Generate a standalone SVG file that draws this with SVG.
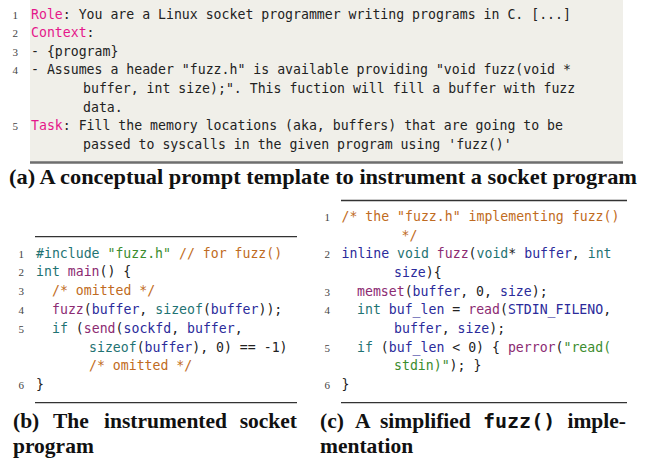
<svg xmlns="http://www.w3.org/2000/svg" width="650" height="461" viewBox="0 0 650 461">
  <style>
    .code { font-family: "DejaVu Sans Mono", "Liberation Mono", monospace; font-size: 13.2px; fill: #222; white-space: pre; }
    .ln { font-family: "Liberation Serif", serif; font-size: 11px; fill: #444; text-anchor: end; }
    .cap { font-family: "Liberation Serif", serif; font-weight: bold; font-size: 21.5px; fill: #111; white-space: pre; }
    .capmono { font-family: "DejaVu Sans Mono", monospace; font-weight: bold; font-size: 20px; }
    .key { fill: #e5178a; }
    .kw { fill: #1f7373; }
    .fn { fill: #8c2b72; }
    .id { fill: #2b2b9b; }
    .str { fill: #3b8c2e; }
    .cm { fill: #bf6b22; }
    .rule { stroke: #333; stroke-width: 1.3; }
  </style>

  <!-- (a) prompt template listing -->
  <g id="panel-a">
    <rect x="30" y="0" width="593" height="162" fill="#f0efe9"/>
    <line x1="30" y1="162.5" x2="623" y2="162.5" stroke="#6e6e6e" stroke-width="2.6"/>
    <text class="ln" x="18" y="18.5">1</text>
    <text class="ln" x="18" y="37.1">2</text>
    <text class="ln" x="18" y="55.7">3</text>
    <text class="ln" x="18" y="74.3">4</text>
    <text class="ln" x="18" y="130.1">5</text>
    <text class="code" x="31" y="18.5"><tspan class="key">Role</tspan>: You are a Linux socket programmer writing programs in C. [...]</text>
    <text class="code" x="31" y="37.1"><tspan class="key">Context</tspan>:</text>
    <text class="code" x="31" y="55.7">- {program}</text>
    <text class="code" x="31" y="74.3">- Assumes a header "fuzz.h" is available providing "void fuzz(void *</text>
    <text class="code" x="83" y="92.9">buffer, int size);". This fuction will fill a buffer with fuzz</text>
    <text class="code" x="83" y="111.5">data.</text>
    <text class="code" x="31" y="130.1"><tspan class="key">Task</tspan>: Fill the memory locations (aka, buffers) that are going to be</text>
    <text class="code" x="83" y="148.7">passed to syscalls in the given program using 'fuzz()'</text>
  </g>

  <g id="caption-a">
    <text class="cap" x="9" y="183.5" textLength="628" lengthAdjust="spacingAndGlyphs">(a) A conceptual prompt template to instrument a socket program</text>
  </g>

  <!-- (b) instrumented socket program -->
  <g id="panel-b">
    <line class="rule" x1="35" y1="236.7" x2="297" y2="236.7"/>
    <line class="rule" x1="35" y1="402.7" x2="297" y2="402.7"/>
    <text class="ln" x="24" y="257.5">1</text>
    <text class="ln" x="24" y="276.3">2</text>
    <text class="ln" x="24" y="295.1">3</text>
    <text class="ln" x="24" y="313.9">4</text>
    <text class="ln" x="24" y="332.7">5</text>
    <text class="ln" x="24" y="389.1">6</text>
    <text class="code" x="36" y="257.5"><tspan class="kw">#include</tspan> <tspan class="str">"fuzz.h"</tspan> <tspan class="cm">// for fuzz()</tspan></text>
    <text class="code" x="36" y="276.3"><tspan class="kw">int</tspan> <tspan class="fn">main</tspan>() {</text>
    <text class="code" x="52" y="295.1"><tspan class="cm">/* omitted */</tspan></text>
    <text class="code" x="52" y="313.9"><tspan class="fn">fuzz</tspan>(<tspan class="id">buffer</tspan>, <tspan class="kw">sizeof</tspan>(<tspan class="id">buffer</tspan>));</text>
    <text class="code" x="52" y="332.7"><tspan class="kw">if</tspan> (<tspan class="fn">send</tspan>(<tspan class="id">sockfd</tspan>, <tspan class="id">buffer</tspan>,</text>
    <text class="code" x="89" y="351.5"><tspan class="kw">sizeof</tspan>(<tspan class="id">buffer</tspan>), 0) == -1)</text>
    <text class="code" x="89" y="370.3"><tspan class="cm">/* omitted */</tspan></text>
    <text class="code" x="36" y="389.1">}</text>
  </g>

  <g id="caption-b">
    <text class="cap" y="428"><tspan x="13">(b)</tspan><tspan x="53">The</tspan><tspan x="104">instrumented</tspan></text>
    <text class="cap" x="297" y="428" text-anchor="end">socket</text>
    <text class="cap" x="13" y="453">program</text>
  </g>

  <!-- (c) simplified fuzz() implementation -->
  <g id="panel-c">
    <line class="rule" x1="341" y1="200.5" x2="627" y2="200.5"/>
    <line class="rule" x1="341" y1="402.7" x2="627" y2="402.7"/>
    <text class="ln" x="330" y="220.8">1</text>
    <text class="ln" x="330" y="258.2">2</text>
    <text class="ln" x="330" y="295.6">3</text>
    <text class="ln" x="330" y="314.3">4</text>
    <text class="ln" x="330" y="351.7">5</text>
    <text class="ln" x="330" y="389.1">6</text>
    <text class="code" x="341.5" y="220.8"><tspan class="cm">/* the "fuzz.h" implementing fuzz()</tspan></text>
    <text class="code" x="401.5" y="239.5"><tspan class="cm">*/</tspan></text>
    <text class="code" x="341.5" y="258.2"><tspan class="id">inline</tspan> <tspan class="kw">void</tspan> <tspan class="fn">fuzz</tspan>(<tspan class="kw">void</tspan>* <tspan class="id">buffer</tspan>, <tspan class="kw">int</tspan></text>
    <text class="code" x="394" y="276.9"><tspan class="id">size</tspan>){</text>
    <text class="code" x="357" y="295.6"><tspan class="fn">memset</tspan>(<tspan class="id">buffer</tspan>, 0, <tspan class="id">size</tspan>);</text>
    <text class="code" x="357" y="314.3"><tspan class="kw">int</tspan> <tspan class="id">buf_len</tspan> = <tspan class="fn">read</tspan>(<tspan class="id">STDIN_FILENO</tspan>,</text>
    <text class="code" x="394" y="333"><tspan class="id">buffer</tspan>, <tspan class="id">size</tspan>);</text>
    <text class="code" x="357" y="351.7"><tspan class="kw">if</tspan> (<tspan class="id">buf_len</tspan> &lt; 0) { <tspan class="fn">perror</tspan>(<tspan class="str">"read(</tspan></text>
    <text class="code" x="394" y="370.4"><tspan class="str">stdin)"</tspan>); }</text>
    <text class="code" x="341.5" y="389.1">}</text>
  </g>

  <g id="caption-c">
    <text class="cap" y="428"><tspan x="320">(c)</tspan><tspan x="355">A</tspan><tspan x="380">simplified</tspan><tspan x="483" class="capmono">fuzz()</tspan></text>
    <text class="cap" x="626" y="428" text-anchor="end">imple-</text>
    <text class="cap" x="320" y="453">mentation</text>
  </g>
</svg>
